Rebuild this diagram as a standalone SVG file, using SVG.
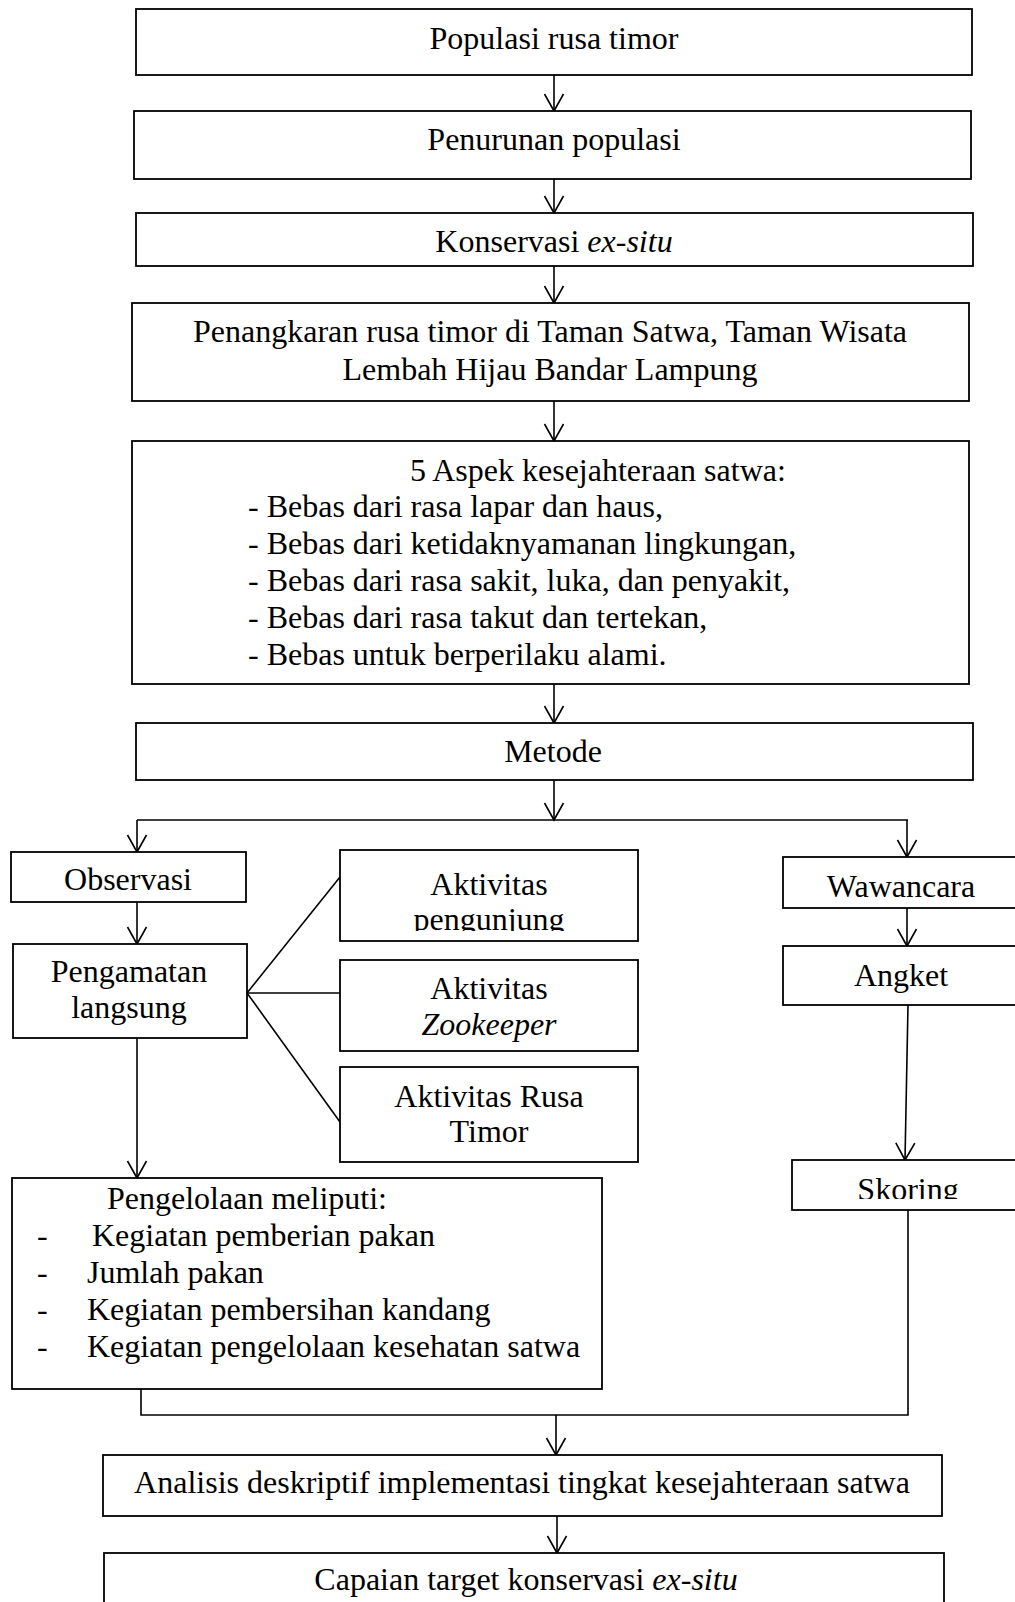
<svg xmlns="http://www.w3.org/2000/svg" width="1015" height="1602" viewBox="0 0 1015 1602">
<style>
.box{fill:#fff;stroke:#000;stroke-width:1.8}
.c{fill:none;stroke:#000;stroke-width:1.6}
.ca{fill:none;stroke:#000;stroke-width:1.6;marker-end:url(#v)}
text{font-family:"Liberation Serif","Times New Roman",serif;font-size:32px;fill:#000}
.m{text-anchor:middle}
.i{font-style:italic}
</style>
<defs>
<marker id="v" markerUnits="userSpaceOnUse" viewBox="-1 -1 20 22" refX="17" refY="9.5" markerWidth="20" markerHeight="22" orient="auto" overflow="visible">
<path d="M0,0 L17,9.5 L0,19" fill="none" stroke="#000" stroke-width="1.6"/>
</marker>
<clipPath id="clipPeng"><rect x="340" y="850" width="298" height="81"/></clipPath>
<clipPath id="clipSkor"><rect x="792" y="1160" width="250" height="39"/></clipPath>
</defs>
<rect width="1015" height="1602" fill="#fff"/>

<g id="connectors">
<line class="ca" x1="554" y1="75" x2="554" y2="111"/>
<line class="ca" x1="554" y1="179" x2="554" y2="213"/>
<line class="ca" x1="554" y1="266" x2="554" y2="303"/>
<line class="ca" x1="554" y1="401" x2="554" y2="441"/>
<line class="ca" x1="554" y1="684" x2="554" y2="723"/>
<line class="ca" x1="554" y1="780" x2="554" y2="820"/>
<line class="c" x1="137" y1="820" x2="908" y2="820"/>
<line class="ca" x1="137" y1="820" x2="137" y2="852"/>
<line class="ca" x1="907" y1="820" x2="907" y2="857"/>
<line class="ca" x1="137" y1="902" x2="137" y2="944"/>
<line class="ca" x1="907" y1="908" x2="907" y2="946"/>
<line class="ca" x1="137" y1="1038" x2="137" y2="1178"/>
<line class="ca" x1="908" y1="1005" x2="905" y2="1160"/>
<line class="c" x1="247" y1="993" x2="340" y2="877"/>
<line class="c" x1="247" y1="993" x2="340" y2="993"/>
<line class="c" x1="247" y1="993" x2="340" y2="1122"/>
<polyline class="c" points="141,1389 141,1415 908,1415 908,1210"/>
<line class="ca" x1="556" y1="1415" x2="556" y2="1455"/>
<line class="ca" x1="557" y1="1516" x2="557" y2="1553"/>
</g>

<g id="n1"><rect class="box" x="136" y="9" width="836" height="66"/>
<text class="m" x="554" y="49">Populasi rusa timor</text></g>

<g id="n2"><rect class="box" x="134" y="111" width="837" height="68"/>
<text class="m" x="554" y="150">Penurunan populasi</text></g>

<g id="n3"><rect class="box" x="136" y="213" width="837" height="53"/>
<text class="m" x="554" y="252">Konservasi <tspan class="i">ex-situ</tspan></text></g>

<g id="n4"><rect class="box" x="132" y="303" width="837" height="98"/>
<text class="m" x="550" y="342">Penangkaran rusa timor di Taman Satwa, Taman Wisata</text>
<text class="m" x="550" y="380">Lembah Hijau Bandar Lampung</text></g>

<g id="n5"><rect class="box" x="132" y="441" width="837" height="243"/>
<text x="410" y="481">5 Aspek kesejahteraan satwa:</text>
<text x="248" y="517">- Bebas dari rasa lapar dan haus,</text>
<text x="248" y="554">- Bebas dari ketidaknyamanan lingkungan,</text>
<text x="248" y="591">- Bebas dari rasa sakit, luka, dan penyakit,</text>
<text x="248" y="628">- Bebas dari rasa takut dan tertekan,</text>
<text x="248" y="665">- Bebas untuk berperilaku alami.</text></g>

<g id="n6"><rect class="box" x="136" y="723" width="837" height="57"/>
<text class="m" x="553" y="762">Metode</text></g>

<g id="n7"><rect class="box" x="11" y="852" width="235" height="50"/>
<text class="m" x="128" y="890">Observasi</text></g>

<g id="n8"><rect class="box" x="13" y="944" width="234" height="94"/>
<text class="m" x="129" y="982">Pengamatan</text>
<text class="m" x="129" y="1018">langsung</text></g>

<g id="n9"><rect class="box" x="340" y="850" width="298" height="91"/>
<g clip-path="url(#clipPeng)">
<text class="m" x="489" y="895">Aktivitas</text>
<text class="m" x="489" y="930">pengunjung</text></g></g>

<g id="n10"><rect class="box" x="340" y="960" width="298" height="91"/>
<text class="m" x="489" y="999">Aktivitas</text>
<text class="m i" x="489" y="1035">Zookeeper</text></g>

<g id="n11"><rect class="box" x="340" y="1067" width="298" height="95"/>
<text class="m" x="489" y="1107">Aktivitas Rusa</text>
<text class="m" x="489" y="1142">Timor</text></g>

<g id="n12"><rect class="box" x="783" y="857" width="260" height="51"/>
<text class="m" x="901" y="897">Wawancara</text></g>

<g id="n13"><rect class="box" x="783" y="946" width="260" height="59"/>
<text class="m" x="901" y="986">Angket</text></g>

<g id="n14"><rect class="box" x="792" y="1160" width="260" height="50"/>
<g clip-path="url(#clipSkor)"><text class="m" x="908" y="1200">Skoring</text></g></g>

<g id="n15"><rect class="box" x="12" y="1178" width="590" height="211"/>
<text x="107" y="1209">Pengelolaan meliputi:</text>
<text x="37" y="1246">-</text><text x="92" y="1246">Kegiatan pemberian pakan</text>
<text x="37" y="1283">-</text><text x="87" y="1283">Jumlah pakan</text>
<text x="37" y="1320">-</text><text x="87" y="1320">Kegiatan pembersihan kandang</text>
<text x="37" y="1357">-</text><text x="87" y="1357">Kegiatan pengelolaan kesehatan satwa</text></g>

<g id="n16"><rect class="box" x="103" y="1455" width="839" height="61"/>
<text class="m" x="522" y="1493">Analisis deskriptif implementasi tingkat kesejahteraan satwa</text></g>

<g id="n17"><rect class="box" x="104" y="1553" width="840" height="80"/>
<text class="m" x="526" y="1590">Capaian target konservasi <tspan class="i">ex-situ</tspan></text></g>
</svg>
